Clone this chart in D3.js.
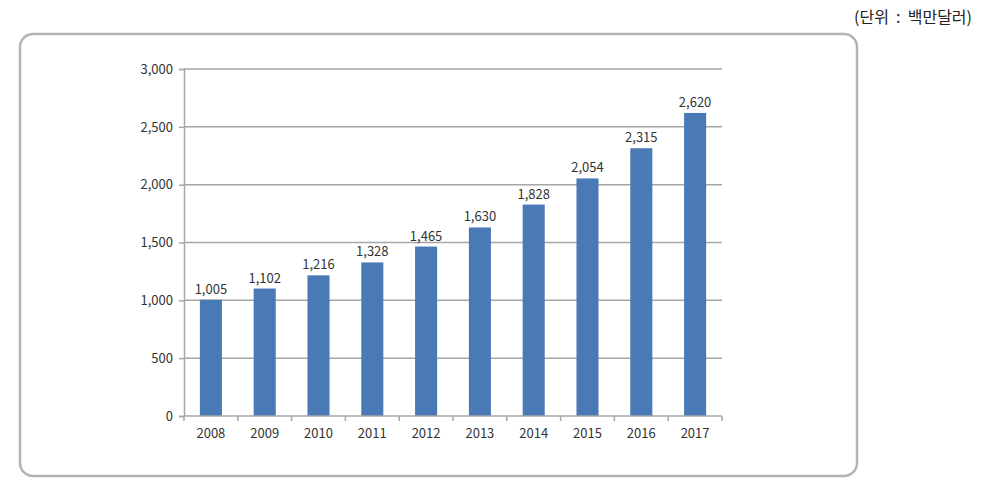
<!DOCTYPE html>
<html><head><meta charset="utf-8">
<script src="https://cdn.jsdelivr.net/npm/d3@7"></script>
<style>body{margin:0;background:#fff;} svg{display:block;}</style>
</head><body>
<svg id="c" width="982" height="486"></svg>
<script>
const years = ["2008","2009","2010","2011","2012","2013","2014","2015","2016","2017"];
const values = [1005,1102,1216,1328,1465,1630,1828,2054,2315,2620];
const yTicks = [0,500,1000,1500,2000,2500,3000];
const unitLabel = "(단위  :  백만달러)";

(function(){
const svg = d3.select("#c");
const font = "'Noto Sans CJK KR','Open Sans',sans-serif";

svg.append("rect").attr("x",20).attr("y",34).attr("width",837).attr("height",442)
  .attr("rx",13).attr("fill","#fff").attr("stroke","#b3b3b3").attr("stroke-width",2.5);

svg.append("text").attr("x",972).attr("y",23).attr("text-anchor","end")
  .style("white-space","pre")
  .attr("font-family",font).attr("font-size",16).attr("fill","#222").text(unitLabel);

const pl=184, pr=722, pt=69, pb=416;
const x = d3.scaleBand().domain(years).range([pl,pr]).padding(0);
const y = d3.scaleLinear().domain([0,3000]).range([pb,pt]);

const g = svg.append("g");
g.selectAll("line.grid").data(yTicks.filter(d=>d>0)).join("line")
  .attr("x1",pl).attr("x2",pr).attr("y1",d=>y(d)).attr("y2",d=>y(d))
  .attr("stroke","#a6a6a6").attr("stroke-width",1.5);

const yAxis = g.append("g").attr("transform",`translate(${pl},0)`)
  .call(d3.axisLeft(y).tickValues(yTicks).tickFormat(d3.format(",")).tickSize(5).tickPadding(6));
yAxis.select(".domain").attr("stroke","#a6a6a6").attr("stroke-width",1.5);
yAxis.selectAll(".tick line").attr("stroke","#a6a6a6").attr("stroke-width",1.5);
yAxis.selectAll("text").attr("font-family",font).attr("font-size",13).attr("fill","#333");

const bw = x.bandwidth()*0.41;
g.selectAll("rect.bar").data(values).join("rect")
  .attr("x",(d,i)=>x(years[i])+x.bandwidth()/2-bw/2).attr("width",bw)
  .attr("y",d=>y(d)).attr("height",d=>y(0)-y(d)).attr("fill","#4a7ab6");

g.selectAll("text.val").data(values).join("text")
  .attr("x",(d,i)=>x(years[i])+x.bandwidth()/2).attr("y",d=>y(d)-6)
  .attr("text-anchor","middle").attr("font-family",font).attr("font-size",13)
  .attr("fill","#333").text(d=>d3.format(",")(d));

g.append("line").attr("x1",pl).attr("x2",pr).attr("y1",pb).attr("y2",pb)
  .attr("stroke","#a6a6a6").attr("stroke-width",1.5);
const bounds = years.map(d=>x(d)).concat([pr]);
g.selectAll("line.xt").data(bounds).join("line")
  .attr("x1",d=>d).attr("x2",d=>d).attr("y1",pb).attr("y2",pb+5)
  .attr("stroke","#a6a6a6").attr("stroke-width",1.5);
g.selectAll("text.xl").data(years).join("text")
  .attr("x",d=>x(d)+x.bandwidth()/2).attr("y",pb+22)
  .attr("text-anchor","middle").attr("font-family",font).attr("font-size",13)
  .attr("fill","#333").text(d=>d);
})();
</script>
</body></html>
